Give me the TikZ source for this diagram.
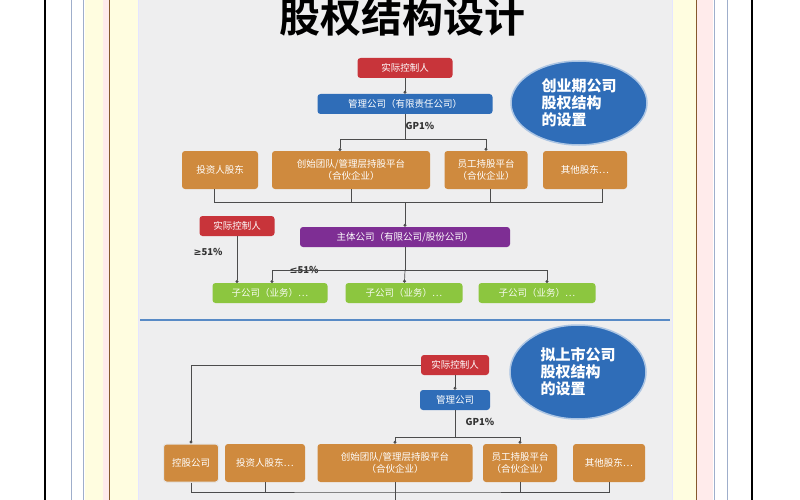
\documentclass[tikz,border=0pt]{standalone}
\usepackage{fontspec}
\setmainfont{Noto Sans CJK SC}
\newfontfamily\titlefont[BoldFont={Noto Sans CJK SC Bold}]{Noto Sans CJK SC}
\newfontfamily\symfont{DejaVu Sans}
\usetikzlibrary{arrows.meta,shapes.geometric}
\definecolor{redbox}{HTML}{C8343A}
\definecolor{bluebox}{HTML}{2F6DB8}
\definecolor{orangebox}{HTML}{CF8A3E}
\definecolor{purplebox}{HTML}{7E2E94}
\definecolor{greenbox}{HTML}{8CC63F}
\definecolor{panel}{HTML}{EEEEEF}
\definecolor{stripe}{HTML}{9FAECB}
\begin{document}
\begin{tikzpicture}[x=1pt,y=-1pt,
    box/.style={rounded corners=3pt,text=white,font=\fontsize{9.5}{11.5}\selectfont,
        align=center,inner sep=1pt,minimum height=20pt},
    red/.style={box,fill=redbox},
    blu/.style={box,fill=bluebox},
    org/.style={box,fill=orangebox,minimum height=38pt},
    pur/.style={box,fill=purplebox},
    grn/.style={box,fill=greenbox,text=white!92!greenbox},
    oval/.style={ellipse,fill=bluebox,draw=bluebox!40,line width=1.5pt,text=white,
        align=left,inner sep=0pt,font=\fontsize{15}{17}\selectfont\bfseries},
    line/.style={draw=black!70,line width=0.7pt},
    arr/.style={line,-{Circle[length=3pt]}},
    pct/.style={font=\fontsize{9.5}{10}\selectfont\bfseries,text=black!80}]
    \useasboundingbox (0,0) rectangle (800,500);
    % the frame
    \fill[white] (0,0) rectangle (800,500);
    \fill[yellow!12] (85,0) rectangle (138,500);
    \fill[yellow!12] (672,0) rectangle (713,500);
    \fill[red!8] (103,0) rectangle (110,500);
    \fill[red!8] (697,0) rectangle (713,500);
    \fill[panel] (138,0) rectangle (672,500);
    \foreach \xx in {45,752}
        \draw[black,line width=2.5pt] (\xx,0) -- (\xx,500);
    \foreach \xx in {71,83,714,727}
        \draw[stripe,line width=0.8pt] (\xx,0) -- (\xx,500);
    \foreach \xx in {109,696}
        \draw[brown!70!black,line width=0.7pt] (\xx,0) -- (\xx,500);
    \draw[white!90!blue,line width=1pt] (138,0) -- (138,500) (672,0) -- (672,500);
    \node[font=\titlefont\fontsize{41}{41}\selectfont\bfseries] (title) at (402,17) {股权结构设计};
    \node[oval,minimum width=136pt,minimum height=84pt] (stage1) at (579,103)
        {创业期公司\\股权结构\\的设置};
    \node[oval,minimum width=136pt,minimum height=94pt] (stage2) at (578,372)
        {拟上市公司\\股权结构\\的设置};
    \draw[bluebox!80,line width=1.5pt] (140,320) -- (670,320);

    % the first chart
    \node[red,minimum width=95pt] (ctrl) at (405,68) {实际控制人};
    \node[blu,minimum width=175pt] (mgmt) at (405,104) {管理公司（有限责任公司）};
    \node[org,minimum width=76pt] (inv) at (220,170) {投资人股东};
    \node[org,minimum width=158pt] (team) at (351,170) {创始团队/管理层持股平台\\（合伙企业）};
    \node[org,minimum width=83pt] (staff) at (486,170) {员工持股平台\\（合伙企业）};
    \node[org,minimum width=84pt] (other) at (585,170) {其他股东…};
    \node[red,minimum width=75pt] (ctrlb) at (237,226) {实际控制人};
    \node[pur,minimum width=210pt] (main) at (405,237) {主体公司（有限公司/股份公司）};
    \node[grn,minimum width=115pt] (subA) at (270,293) {子公司（业务）…};
    \node[grn,minimum width=117pt] (subB) at (404,293) {子公司（业务）…};
    \node[grn,minimum width=117pt] (subC) at (537,293) {子公司（业务）…};
    \node[pct] (gpA) at (420,126) {GP1\%};
    \node[pct] (geq) at (208,252) {{\symfont ≥}51\%};
    \node[pct] (leq) at (304,270) {{\symfont ≤}51\%};

    \draw[arr] (ctrl) -- (mgmt);
    \draw[line] (mgmt) -- (405,139);
    \draw[arr] (405,139) -| (340,151);
    \draw[arr] (405,139) -| (staff);
    \draw[line] (inv.south west) ++(33,0) |- (405,202);
    \draw[line] (405,202) -| (602,189);
    \draw[line] (team) |- (405,202) -| (490,189);
    \draw[arr] (405,202) -- (main);
    \draw[arr] (ctrlb) -- (237,283);
    \draw[line] (main) -- (405,270);
    \draw[arr] (405,270) -| (272,283);
    \draw[arr] (405,270) -- (subB);
    \draw[arr] (405,270) -| (547,283);

    % the second chart
    \node[red,minimum width=68pt] (ctrl2) at (455,365) {实际控制人};
    \node[blu,minimum width=70pt] (mgmt2) at (455,400) {管理公司};
    \node[org,minimum width=55pt,draw=white!80!gray,line width=1pt] (hold) at (191,463) {控股公司};
    \node[org,minimum width=80pt] (inv2) at (265,463) {投资人股东…};
    \node[org,minimum width=155pt] (team2) at (395,463) {创始团队/管理层持股平台\\（合伙企业）};
    \node[org,minimum width=74pt] (staff2) at (520,463) {员工持股平台\\（合伙企业）};
    \node[org,minimum width=72pt] (other2) at (609,463) {其他股东…};
    \node[pct] (gpB) at (480,422) {GP1\%};

    \draw[arr] (ctrl2) -- (mgmt2);
    \draw[arr] (ctrl2) -| (hold);
    \draw[line] (mgmt2) -- (455,437);
    \draw[arr] (455,437) -| (team2);
    \draw[arr] (455,437) -| (staff2);
    \draw[line] (hold) |- (395,492) -| (other2);
    \draw[line] (inv2) -- (265,492);
    \draw[line] (staff2) -- (520,492);
    \draw[line] (team2) -- (395,500);
\end{tikzpicture}
\end{document}
